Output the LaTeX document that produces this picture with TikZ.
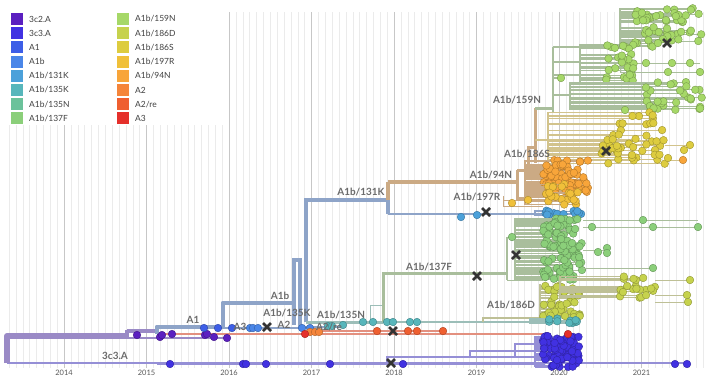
\documentclass[tikz,border=0pt]{standalone}
\usepackage{fontspec}
\setmainfont{Lato}
\setsansfont{Lato}

% tip colours of the legend
\definecolor{c3c2A}{HTML}{5B1FC0}
\definecolor{c3c3A}{HTML}{4131E2}
\definecolor{cA1}{HTML}{3D5EE7}
\definecolor{cA1b}{HTML}{4A86E8}
\definecolor{c131K}{HTML}{4CA1DA}
\definecolor{c135K}{HTML}{57B6BB}
\definecolor{c135N}{HTML}{6BC29B}
\definecolor{c137F}{HTML}{8BCF7A}
\definecolor{c159N}{HTML}{A6D868}
\definecolor{c186D}{HTML}{C6D24D}
\definecolor{c186S}{HTML}{DDCC3F}
\definecolor{c197R}{HTML}{F0C03A}
\definecolor{c94N}{HTML}{F8A53A}
\definecolor{cA2}{HTML}{F5853A}
\definecolor{cA2re}{HTML}{EF5F30}
\definecolor{cA3}{HTML}{E5302B}
% branch colours
\definecolor{bPurple}{HTML}{9A8AC6}
\definecolor{bLav}{HTML}{958FD6}
\definecolor{bBlue}{HTML}{8EA4C8}
\definecolor{bTan}{HTML}{CBAA84}
\definecolor{bSage}{HTML}{A9BE9C}
\definecolor{bTeal}{HTML}{9CBEB8}
\definecolor{bOlive}{HTML}{BEC096}
\definecolor{bWheat}{HTML}{D2C38C}
\definecolor{bRed}{HTML}{E3907F}

% dot colour, twig colour, stem x, x, y, width, height, count, seed
\newcommand{\tipcloud}[9]{%
  \pgfmathsetseed{#9}
  \foreach \k in {1,...,#8}{
    \pgfmathsetmacro{\ty}{#5+#7*rnd}
    \pgfmathsetmacro{\tx}{#4+#6*rnd}
    \draw[#2, line width=0.7pt] (#3,\ty) -- (\tx,\ty);
  }
  \draw[#2, line width=1.2pt] (#3,#5) -- (#3,#5+#7);
  \pgfmathsetseed{#9}
  \foreach \k in {1,...,#8}{
    \pgfmathsetmacro{\ty}{#5+#7*rnd}
    \pgfmathsetmacro{\tx}{#4+#6*rnd}
    \filldraw[tipdot=#1] (\tx,\ty) circle (3.8bp);
  }
}
\newcommand{\tipat}[3]{\filldraw[tipdot=#1] (#2,#3) circle (3.8bp);}
\newcommand{\crossat}[2]{\draw[cross] (#1-4,#2-4) -- (#1+4,#2+4) (#1-4,#2+4) -- (#1+4,#2-4);}

\begin{document}
\begin{tikzpicture}[x=1bp, y=-1bp, tipdot/.style={fill=#1, draw=#1!72!black, line width=0.4pt}]
    % Define styles
    \tikzstyle{minorgrid} = [draw=black!8, line width=0.5pt]
    \tikzstyle{majorgrid} = [draw=black!22, line width=0.8pt]
    \tikzstyle{clade} = [text=black!58, font=\fontsize{10}{12}\selectfont\bfseries, inner sep=1pt]
    \tikzstyle{year} = [text=black!65, font=\fontsize{7.5}{9}\selectfont]
    \tikzstyle{keytext} = [anchor=west, text=black!75, font=\fontsize{8.5}{10}\selectfont, inner sep=0pt]
    \tikzstyle{cross} = [draw=black!80, line width=2.6pt]

    \useasboundingbox (0,0) rectangle (709,379);
    \fill[white] (0,0) rectangle (709,379);

    % Time grid
    \foreach \m in {4,...,105}{
        \pgfmathsetmacro{\gx}{-18.5+6.875*\m}
        \draw[minorgrid] (\gx,12) -- (\gx,368);
    }
    \foreach \yr [count=\i from 0] in {2014,...,2021}{
        \draw[majorgrid] ({64+82.5*\i},12) -- ({64+82.5*\i},368);
        \node[year] (yr\yr) at ({64+82.5*\i},373) {\yr};
    }

    % Legend
    \fill[white] (0,0) rectangle (226,125);
    \foreach \col/\lab [count=\i from 0] in {c3c2A/3c2.A, c3c3A/3c3.A, cA1/A1, cA1b/A1b, c131K/{A1b/131K}, c135K/{A1b/135K}, c135N/{A1b/135N}, c137F/{A1b/137F}}{
        \fill[\col] (11,{13+14.2*\i}) rectangle +(12,12);
        \node[keytext] (keyl\i) at (29,{19+14.2*\i}) {\lab};
    }
    \foreach \col/\lab [count=\i from 0] in {c159N/{A1b/159N}, c186D/{A1b/186D}, c186S/{A1b/186S}, c197R/{A1b/197R}, c94N/{A1b/94N}, cA2/A2, cA2re/{A2/re}, cA3/A3}{
        \fill[\col] (117,{13+14.2*\i}) rectangle +(12,12);
        \node[keytext] (keyr\i) at (135,{19+14.2*\i}) {\lab};
    }

    % 3c3.A lineage
    \draw[bLav, line width=2pt] (7,363) -- (157,363);
    \draw[bLav, line width=3pt] (157,363) -- (545,363);
    \draw[bLav, line width=1.5pt] (545,363) -- (687,363);
    \draw[bLav, line width=1.2pt] (387,363) -- (387,357) -- (545,357);
    \draw[bLav, line width=1.2pt] (470,357) -- (470,351) -- (545,351);
    \draw[bLav, line width=1.2pt] (515,357) -- (515,344) -- (545,344);

    % root and 3c2.A
    \draw[bPurple, line width=6pt, line join=round] (7,363) -- (7,336) -- (127,336);
    \draw[bPurple, line width=4pt] (127,330) -- (127,339);
    \draw[bPurple, line width=5pt] (127,331) -- (157,331);
    \draw[bPurple, line width=1.3pt] (127,338) -- (228,338);

    % A1, A1b
    \draw[bRed, line width=1.4pt] (157,334) -- (545,334);
    \draw[bBlue, line width=5pt, line join=round] (157,334) -- (157,327) -- (223,327) -- (223,303) -- (293,303);
    \draw[bBlue, line width=2pt] (223,328) -- (300,328);
    \draw[bBlue, line width=4pt] (294,325) -- (294,260) -- (300,260) -- (300,327);
    \draw[bBlue, line width=1.5pt] (300,327) -- (345,327);
    \draw[bBlue, line width=5pt] (306,322) -- (306,200) -- (388,200);

    % A1b/135N and A1b/137F
    \draw[bTeal, line width=3pt] (306,322) -- (383,322);
    \draw[bTeal, line width=1.5pt] (383,322) -- (545,322);
    \draw[bTeal, line width=1pt] (370,321) -- (370,305) -- (383,305);
    \draw[bSage, line width=3pt] (383,322) -- (383,273) -- (507,273);
    \draw[bSage, line width=2pt] (507,237) -- (507,280);
    \draw[bSage, line width=1pt] (507,237) -- (520,237);
    \draw[bSage, line width=1pt] (507,280) -- (543,280);
    \draw[bOlive, line width=1.5pt] (483,322) -- (483,318) -- (540,318);

    % A1b/131K and descendants
    \draw[bBlue, line width=4pt] (388,200) -- (388,214);
    \draw[bBlue, line width=2.5pt] (388,214) -- (535,214);
    \draw[bTan, line width=4pt] (388,200) -- (388,182);
    \draw[bTan, line width=5pt] (388,182) -- (517,182);
    \draw[bTan, line width=3pt] (517,170) -- (517,198) -- (525,198);
    \draw[bTan, line width=3pt] (517,170) -- (528,170) -- (528,147) -- (535,147);
    \draw[bTan, line width=3pt] (535,108) -- (535,163);
    \draw[bTan, line width=1pt] (503,196) -- (503,206) (503,200) -- (543,200) (503,206) -- (543,206);
    \draw[bWheat, line width=1.5pt] (535,140) -- (548,140);

    % A1b/159N
    \draw[bSage, line width=3pt] (535,108) -- (553,108);
    \draw[bSage, line width=2pt] (553,47) -- (553,112);
    \draw[bSage, line width=1.5pt] (553,47) -- (620,47);
    \draw[bSage, line width=1.2pt] (553,62) -- (580,62);
    \draw[bSage, line width=1.2pt] (553,75) -- (606,75) (553,95) -- (570,95) (553,78) -- (561,78);
    \draw[bSage, line width=0.8pt] (620,63) -- (700,63) (620,63) -- (620,72) -- (700,72);

    % tip clouds
    \tipcloud{c159N}{bSage}{620}{632}{8}{73}{40}{55}{11}
    \tipcloud{c159N}{bSage}{580}{606}{44}{28}{38}{30}{12}
    \tipcloud{c159N}{bSage}{570}{640}{82}{62}{28}{30}{13}
    \tipcloud{c186S}{bWheat}{548}{600}{112}{65}{52}{48}{14}
    \tipcloud{c94N}{bTan}{525}{543}{160}{45}{33}{70}{15}
    \tipcloud{c197R}{bTan}{525}{543}{183}{42}{22}{24}{16}
    \tipcloud{c131K}{bBlue}{535}{543}{210}{40}{6}{14}{17}
    \tipcloud{c137F}{bSage}{515}{543}{218}{40}{62}{105}{18}
    \tipcloud{c186D}{bOlive}{540}{543}{284}{37}{34}{44}{19}
    \tipcloud{c186D}{bOlive}{560}{618}{276}{37}{22}{20}{20}
    \tipcloud{c135K}{bTeal}{530}{543}{318}{37}{6}{10}{21}
    \tipcloud{c3c3A}{bLav}{535}{543}{336}{37}{31}{80}{22}

    % single tips
    \draw[bSage, line width=0.8pt] (583,220) -- (698,220) (583,227) -- (698,227) (583,268) -- (653,268) (583,250) -- (607,250);
    \draw[bOlive, line width=0.8pt] (655,280) -- (690,280) (655,295) -- (688,295) (655,302) -- (688,302);
    \draw[bWheat, line width=0.8pt] (665,145) -- (690,145) (665,160) -- (683,160);
    \foreach \x/\y in {561/78, 646/63, 672/63, 690/63, 700/72, 668/72, 625/110}{\tipat{c159N}{\x}{\y}}
    \foreach \x/\y in {690/145, 684/150, 668/158}{\tipat{c186S}{\x}{\y}}
    \tipat{c94N}{683}{160}
    \foreach \x/\y in {643/220, 698/227, 653/227, 592/227, 653/268, 607/248, 598/252, 607/253, 512/237}{\tipat{c137F}{\x}{\y}}
    \foreach \x/\y in {690/280, 687/295, 688/302}{\tipat{c186D}{\x}{\y}}
    \foreach \x in {170, 243, 246, 266, 330, 403, 675, 687}{\tipat{c3c3A}{\x}{364}}
    \foreach \x/\y in {137/335, 160/337, 162/335, 172/334, 205/335, 207/334, 214/337, 227/338}{\tipat{c3c2A}{\x}{\y}}
    \foreach \x in {204, 218, 232}{\tipat{cA1}{\x}{328}}
    \foreach \x in {250, 253, 258, 302, 310}{\tipat{cA1b}{\x}{328}}
    \draw[bRed, line width=1.2pt] (320,331) -- (443,331);
    \foreach \x in {310, 315, 319}{\tipat{cA2}{\x}{332}}
    \tipat{cA3}{305}{334}
    \tipat{cA3}{568}{334}
    \foreach \x in {377, 408, 417, 443}{\tipat{cA2re}{\x}{331}}
    \foreach \x/\y in {328/326, 332/326, 343/325, 363/322, 373/322, 387/322, 393/322, 410/322, 417/322}{\tipat{c135K}{\x}{\y}}
    \foreach \x/\y in {461/217, 477/215}{\tipat{c131K}{\x}{\y}}
    \foreach \x/\y in {512/203, 528/200}{\tipat{c197R}{\x}{\y}}

    % clade labels
    \node[clade] (l3c3A) at (115,356) {3c3.A};
    \node[clade] (lA1) at (193,320) {A1};
    \node[clade] (lA1b) at (280,296) {A1b};
    \node[clade] (lA3) at (240,327) {A3};
    \node[clade] (lA2) at (284,325) {A2};
    \node[clade] (l135K) at (287,313) {A1b/135K};
    \node[clade] (lA2re) at (329,327) {A2/re};
    \node[clade] (l135N) at (341,315) {A1b/135N};
    \node[clade] (l131K) at (361,192) {A1b/131K};
    \node[clade] (l137F) at (429,267) {A1b/137F};
    \node[clade] (l186D) at (511,305) {A1b/186D};
    \node[clade] (l197R) at (477,197) {A1b/197R};
    \node[clade] (l94N) at (491,175) {A1b/94N};
    \node[clade] (l186S) at (527,154) {A1b/186S};
    \node[clade] (l159N) at (517,100) {A1b/159N};

    % sample marks
    \crossat{267}{327}
    \crossat{393}{331}
    \crossat{391}{363}
    \crossat{486}{212}
    \crossat{516}{255}
    \crossat{477}{276}
    \crossat{606}{151}
    \crossat{667}{43}
\end{tikzpicture}
\end{document}
